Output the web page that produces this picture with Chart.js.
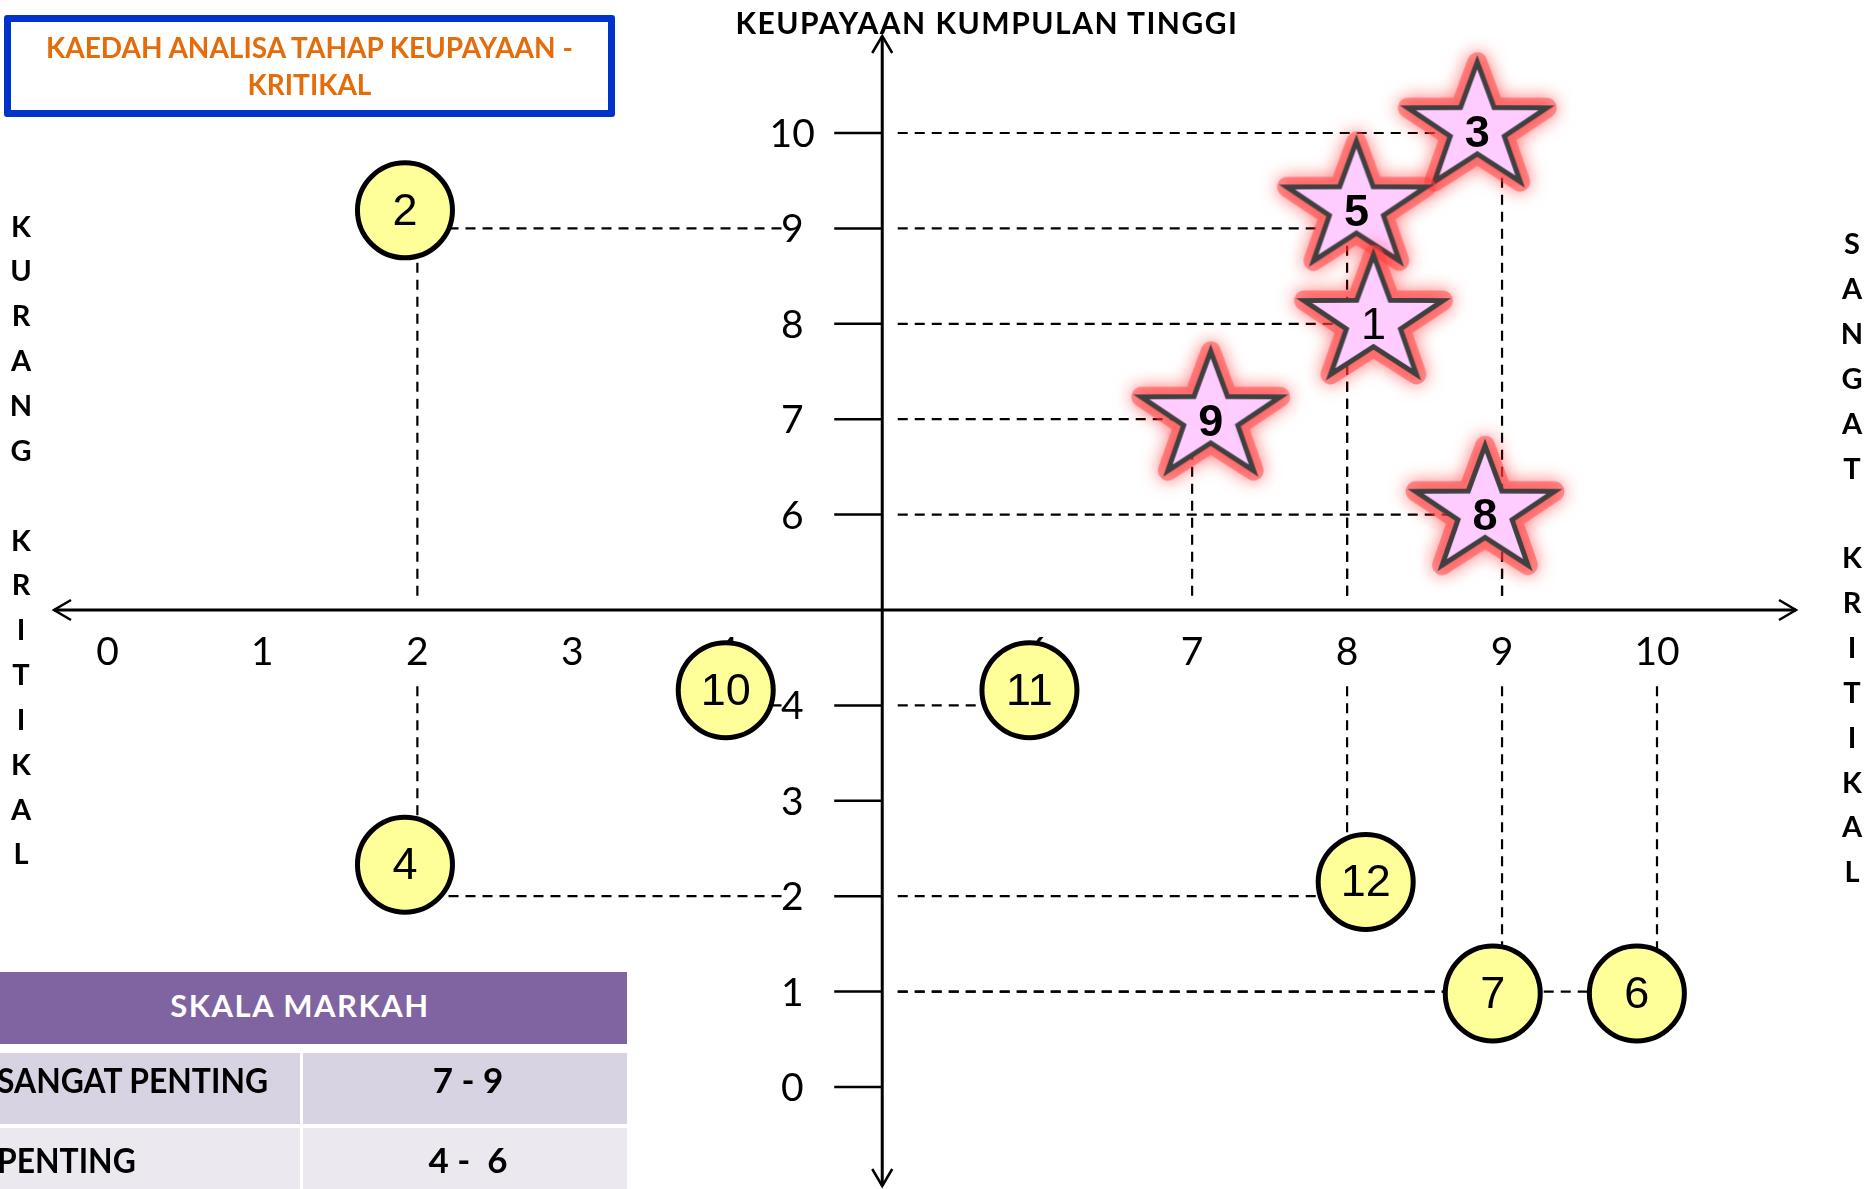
<!DOCTYPE html>
<html>
<head>
<meta charset="utf-8">
<title>Kaedah Analisa Tahap Keupayaan - Kritikal</title>
<script src="https://cdn.jsdelivr.net/npm/chart.js@4.4.1/dist/chart.umd.min.js"></script>
<style>
  body { margin: 0; width: 1865px; height: 1189px; overflow: hidden; position: relative; background: #fff; font-family: Lato, "Open Sans", sans-serif; }
  #myChart { position: absolute; left: 0; top: 0; }
  .judul { position: absolute; left: 4px; top: 15px; width: 611px; height: 102px; box-sizing: border-box; border: 7px solid #0033cc; border-radius: 3px; color: #e46c0a; font-weight: bold; font-size: 28px; line-height: 37px; text-align: center; padding-top: 7px; }
  .atas { position: absolute; left: 687px; width: 600px; top: 4px; text-align: center; font-weight: bold; font-size: 30px; line-height: 36px; letter-spacing: 1.5px; }
  .tegak { position: absolute; width: 40px; text-align: center; font-weight: bold; font-size: 29px; line-height: 44.85px; }
  .sel { position: absolute; }
  .teks { position: absolute; white-space: pre; font-weight: bold; }
</style>
</head>
<body>
<canvas id="myChart" width="1865" height="1189"></canvas>

<div class="judul">KAEDAH ANALISA TAHAP KEUPAYAAN -<br>KRITIKAL</div>
<div class="atas">KEUPAYAAN KUMPULAN TINGGI</div>
<div class="tegak" style="left:1px; top:203.6px;">K<br>U<br>R<br>A<br>N<br>G<br><br>K<br>R<br>I<br>T<br>I<br>K<br>A<br>L</div>
<div class="tegak" style="left:1832px; top:221.4px;">S<br>A<br>N<br>G<br>A<br>T<br><br>K<br>R<br>I<br>T<br>I<br>K<br>A<br>L</div>

<div class="sel" style="left:0; top:972px; width:627px; height:72px; background:#8064a2;"></div>
<div class="sel" style="left:0; top:1053px; width:300px; height:71px; background:#d8d3e2;"></div>
<div class="sel" style="left:303px; top:1053px; width:324px; height:71px; background:#d8d3e2;"></div>
<div class="sel" style="left:0; top:1128px; width:300px; height:61px; background:#ebe8ef;"></div>
<div class="sel" style="left:303px; top:1128px; width:324px; height:61px; background:#ebe8ef;"></div>
<div class="teks" style="left:0; width:600px; text-align:center; top:985px; font-size:31px; line-height:40px; color:#fff; letter-spacing:1.5px;">SKALA MARKAH</div>
<div class="teks" style="left:-3px; top:1057px; font-size:35px; line-height:44px; transform:scaleX(0.91); transform-origin:left;">SANGAT PENTING</div>
<div class="teks" style="left:-3px; top:1137px; font-size:35px; line-height:44px; transform:scaleX(0.91); transform-origin:left;">PENTING</div>
<div class="teks" style="left:368px; width:200px; text-align:center; top:1057px; font-size:35px; line-height:44px;">7 - 9</div>
<div class="teks" style="left:368px; width:200px; text-align:center; top:1137px; font-size:35px; line-height:44px;">4 -  6</div>

<script>
// nilai paksi (tanpa 5, titik silang paksi)
const xTickValues = [0, 1, 2, 3, 4, 6, 7, 8, 9, 10];
const yTickValues = [0, 1, 2, 3, 4, 6, 7, 8, 9, 10];

// bintang = sangat kritikal
const starLabels = ["3", "5", "1", "9", "8"];
const starX = [8.84, 8.06, 8.17, 7.12, 8.89];
const starY = [10.05, 9.22, 8.03, 7.02, 6.03];

// bulatan kuning
const circleLabels = ["2", "4", "10", "11", "12", "7", "6"];
const circleX = [1.92, 1.92, 3.99, 5.95, 8.12, 8.94, 9.87];
const circleY = [9.19, 2.33, 4.16, 4.16, 2.15, 0.98, 0.98];

const graph = document.querySelector("#myChart");
let myChart;

function gabung(xs, ys) {
  return xs.map((x, i) => ({ x: x, y: ys[i] }));
}

// bintang merah jambu dengan cahaya merah
function buatBintang() {
  const c = document.createElement("canvas");
  c.width = 210;
  c.height = 190;
  const ctx = c.getContext("2d");
  const cx = 105, cy = 95;
  ctx.beginPath();
  for (let i = 0; i < 10; i++) {
    const r = i % 2 === 0 ? 1 : 0.39;
    const a = -Math.PI / 2 + i * Math.PI / 5;
    const px = cx + 73 * r * Math.cos(a);
    const py = cy + 66 * r * Math.sin(a);
    if (i === 0) ctx.moveTo(px, py); else ctx.lineTo(px, py);
  }
  ctx.closePath();
  ctx.save();
  ctx.shadowColor = "rgba(255,0,0,0.95)";
  ctx.shadowBlur = 18;
  ctx.lineJoin = "round";
  ctx.lineWidth = 20;
  ctx.strokeStyle = "rgba(255,70,70,0.55)";
  ctx.stroke();
  ctx.restore();
  ctx.fillStyle = "#ffccff";
  ctx.fill();
  ctx.lineJoin = "miter";
  ctx.lineWidth = 5;
  ctx.strokeStyle = "#404040";
  ctx.stroke();
  return c;
}

// garis putus-putus dari setiap titik ke paksi, pada nilai skor bulat
function garisPandu(xs, ys) {
  const sets = [];
  xs.forEach((x0, i) => {
    const x = Math.round(x0);
    const y = Math.round(ys[i]);
    const hujungX = x > 5 ? 5.1 : 4.35;
    const hujungY = y > 5 ? 5.15 : 4.2;
    sets.push({ data: [{ x: hujungX, y: y }, { x: x, y: y }] });
    sets.push({ data: [{ x: x, y: hujungY }, { x: x, y: y }] });
  });
  return sets.map((s) => ({
    ...s,
    showLine: true,
    borderColor: "#000",
    borderWidth: 2.2,
    borderDash: [10, 7],
    pointRadius: 0,
    order: 3,
  }));
}

// paksi bersilang di tengah, dengan anak panah
const pluginPaksi = {
  id: "paksi",
  beforeDatasetsDraw(chart) {
    const ctx = chart.ctx;
    const a = chart.chartArea;
    const sx = chart.scales.x;
    const sy = chart.scales.y;
    const px = sx.getPixelForValue(5);
    const py = sy.getPixelForValue(5);
    ctx.save();
    ctx.strokeStyle = "#000";
    ctx.lineWidth = 3;
    ctx.beginPath();
    ctx.moveTo(a.left, py); ctx.lineTo(a.right, py);
    ctx.moveTo(px, a.top); ctx.lineTo(px, a.bottom);
    ctx.stroke();
    ctx.lineWidth = 2.5;
    ctx.beginPath();
    ctx.moveTo(a.left + 17, py - 10); ctx.lineTo(a.left, py); ctx.lineTo(a.left + 17, py + 10);
    ctx.moveTo(a.right - 17, py - 10); ctx.lineTo(a.right, py); ctx.lineTo(a.right - 17, py + 10);
    ctx.moveTo(px - 10, a.top + 17); ctx.lineTo(px, a.top); ctx.lineTo(px + 10, a.top + 17);
    ctx.moveTo(px - 10, a.bottom - 17); ctx.lineTo(px, a.bottom); ctx.lineTo(px + 10, a.bottom - 17);
    ctx.stroke();

    ctx.fillStyle = "#000";
    ctx.font = "39px Lato";
    ctx.textAlign = "center";
    ctx.textBaseline = "alphabetic";
    ctx.lineWidth = 2.5;
    yTickValues.forEach((v) => {
      const y = sy.getPixelForValue(v);
      ctx.beginPath();
      ctx.moveTo(px - 48, y);
      ctx.lineTo(px, y);
      ctx.stroke();
      ctx.fillText(String(v), px - 90, y + 14);
    });
    xTickValues.forEach((v) => {
      ctx.fillText(String(v), sx.getPixelForValue(v), py + 55);
    });
    ctx.restore();
  },
  afterDatasetsDraw(chart) {
    const ctx = chart.ctx;
    ctx.save();
    ctx.textAlign = "center";
    ctx.textBaseline = "middle";
    ctx.fillStyle = "#000";
    chart.data.datasets.forEach((ds, i) => {
      if (!ds.nombor) return;
      const meta = chart.getDatasetMeta(i);
      meta.data.forEach((el, j) => {
        const tebal = ds.bintang && ds.nombor[j] !== "1" ? "bold " : "";
        ctx.font = tebal + "45px 'Liberation Sans', Arial, sans-serif";
        ctx.fillText(ds.nombor[j], el.x, el.y + (ds.bintang ? 6 : 2));
      });
    });
    ctx.restore();
  },
};

function renderizar_grafica() {
  if (myChart) {
    myChart.destroy();
  }
  const bulatan = {
    data: gabung(circleX, circleY),
    nombor: circleLabels,
    pointStyle: "circle",
    pointRadius: 47.5,
    backgroundColor: "#ffff99",
    borderColor: "#000",
    borderWidth: 5,
    order: 2,
  };
  const bintang = {
    data: gabung(starX, starY),
    nombor: starLabels,
    bintang: true,
    pointStyle: buatBintang(),
    pointRadius: 70,
    order: 1,
  };
  const garis = garisPandu(circleX.concat(starX), circleY.concat(starY));

  myChart = new Chart(graph, {
    type: "scatter",
    data: { datasets: garis.concat([bulatan, bintang]) },
    options: {
      responsive: false,
      animation: false,
      devicePixelRatio: 1,
      events: [],
      layout: { autoPadding: false, padding: { left: 54, right: 69, top: 36, bottom: 3 } },
      plugins: { legend: { display: false }, tooltip: { enabled: false } },
      scales: {
        x: { type: "linear", display: false, min: -0.345, max: 10.897 },
        y: { type: "linear", display: false, min: -1.038, max: 11.017 },
      },
    },
    plugins: [pluginPaksi],
  });
}

renderizar_grafica();
</script>
</body>
</html>
